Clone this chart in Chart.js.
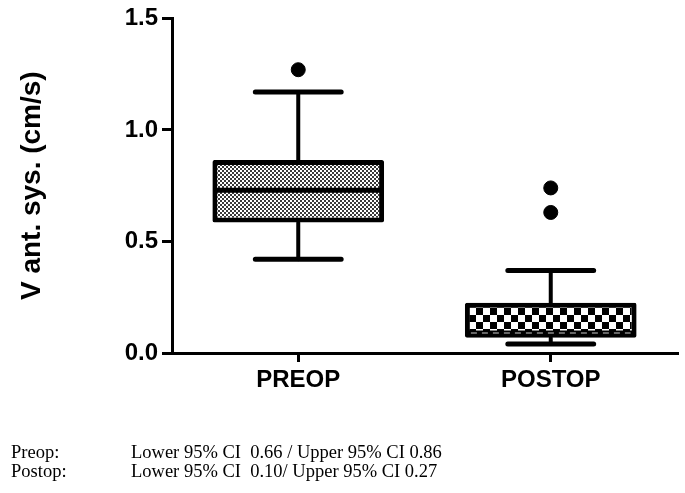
<!DOCTYPE html>
<html>
<head>
<meta charset="utf-8">
<script src="https://cdn.jsdelivr.net/npm/chart.js@4.4.1/dist/chart.umd.min.js"></script>
<style>
  html, body { margin: 0; padding: 0; background: #fff; }
  #wrap { position: relative; width: 685px; height: 493px; }
  #chart { position: absolute; left: 0; top: 0; }
  .note { position: absolute; font-family: "Liberation Serif", "Times New Roman", serif; font-size: 18.5px; line-height: 20px; color: #000; white-space: pre; }
</style>
</head>
<body>
<div id="wrap">
  <canvas id="chart" width="685" height="493"></canvas>
  <div class="note" style="left:11px; top:442px;">Preop:</div>
  <div class="note" style="left:131px; top:442px;">Lower 95% CI  0.66 / Upper 95% CI 0.86</div>
  <div class="note" style="left:11px; top:461px;">Postop:</div>
  <div class="note" style="left:131px; top:461px;">Lower 95% CI  0.10/ Upper 95% CI 0.27</div>
</div>
<script>
  // box plot values
  const groups = ["PREOP", "POSTOP"];
  const mins = [0.42, 0.04];
  const q1s = [0.585, 0.068];
  const medians = [0.73, 0.09];
  const q3s = [0.865, 0.225];
  const maxs = [1.17, 0.37];
  const outliers = [
    { x: "PREOP", y: 1.27 },
    { x: "POSTOP", y: 0.74 },
    { x: "POSTOP", y: 0.63 },
  ];
  const yTicks = [0, 0.5, 1.0, 1.5];

  function makePattern(cell, ink) {
    const c = document.createElement("canvas");
    c.width = cell * 2;
    c.height = cell * 2;
    const g = c.getContext("2d");
    g.fillStyle = "#fff";
    g.fillRect(0, 0, c.width, c.height);
    g.fillStyle = ink;
    g.fillRect(0, 0, cell, cell);
    g.fillRect(cell, cell, cell, cell);
    return g.createPattern(c, "repeat");
  }
  const ctx = document.getElementById("chart").getContext("2d");
  const fills = [makePattern(2, "#3a3a3a"), makePattern(7, "#000")];

  // whiskers, caps and median lines, placed with the chart's scales
  const boxExtras = {
    id: "boxExtras",
    afterDatasetsDraw(chart) {
      const x = chart.scales.x, y = chart.scales.y;
      const meta = chart.getDatasetMeta(0);
      const c = chart.ctx;
      c.save();
      c.strokeStyle = "#000";
      groups.forEach((g, i) => {
        const cx = x.getPixelForValue(i);
        const bw = meta.data[i].width;
        const capHalf = bw / 4;
        c.lineCap = "round";
        c.lineWidth = 4;
        c.beginPath();
        c.moveTo(cx, y.getPixelForValue(q3s[i]));
        c.lineTo(cx, y.getPixelForValue(maxs[i]));
        c.moveTo(cx, y.getPixelForValue(q1s[i]));
        c.lineTo(cx, y.getPixelForValue(mins[i]));
        c.stroke();
        c.lineWidth = 5;
        c.beginPath();
        c.moveTo(cx - capHalf, y.getPixelForValue(maxs[i]));
        c.lineTo(cx + capHalf, y.getPixelForValue(maxs[i]));
        c.moveTo(cx - capHalf, y.getPixelForValue(mins[i]));
        c.lineTo(cx + capHalf, y.getPixelForValue(mins[i]));
        c.stroke();
        // median
        const my = y.getPixelForValue(medians[i]);
        c.lineCap = "butt";
        c.lineWidth = 5;
        c.beginPath();
        c.moveTo(cx - bw / 2 + 2, my);
        c.lineTo(cx + bw / 2 - 2, my);
        c.stroke();
        if (i === 1) {
          c.strokeStyle = "#888";
          c.lineWidth = 1.5;
          c.setLineDash([6, 5]);
          c.beginPath();
          c.moveTo(cx - bw / 2 + 6, my);
          c.lineTo(cx + bw / 2 - 6, my);
          c.stroke();
          c.setLineDash([]);
          c.strokeStyle = "#000";
        }
      });
      c.restore();
    },
  };

  const tickFont = { family: "'Liberation Sans', Arial, sans-serif", size: 24, weight: "bold" };

  new Chart(ctx, {
    type: "bar",
    data: {
      labels: groups,
      datasets: [
        {
          label: "IQR",
          data: groups.map((g, i) => [q1s[i], q3s[i]]),
          backgroundColor: fills,
          borderColor: "#000",
          borderWidth: 5,
          borderSkipped: false,
          borderRadius: 2,
          barPercentage: 0.68,
          categoryPercentage: 1,
          order: 2,
        },
        {
          type: "line",
          label: "Outliers",
          data: outliers,
          showLine: false,
          pointRadius: 7,
          pointBackgroundColor: "#000",
          pointBorderColor: "#000",
          order: 1,
        },
      ],
    },
    options: {
      responsive: false,
      animation: false,
      layout: { padding: { left: 0, right: 8, top: 18, bottom: 0 } },
      plugins: { legend: { display: false }, tooltip: { enabled: false } },
      scales: {
        x: {
          offset: true,
          afterFit: (s) => { s.height = 140; },
          border: { display: true, color: "#000", width: 3 },
          grid: { display: true, offset: false, drawOnChartArea: false, drawTicks: true, tickLength: 9, color: "#000", lineWidth: 3 },
          ticks: { color: "#000", font: tickFont, padding: 4 },
        },
        y: {
          min: 0,
          max: 1.5,
          afterFit: (s) => { s.width = 172; },
          afterBuildTicks: (s) => { s.ticks = yTicks.map((v) => ({ value: v })); },
          border: { display: true, color: "#000", width: 3 },
          grid: { display: true, drawOnChartArea: false, drawTicks: true, tickLength: 10, color: "#000", lineWidth: 3 },
          ticks: { color: "#000", font: tickFont, padding: 4, callback: (v) => Number(v).toFixed(1) },
          title: {
            display: true,
            text: "V ant. sys. (cm/s)",
            color: "#000",
            font: { family: "'Liberation Sans', Arial, sans-serif", size: 28, weight: "bold" },
            padding: { top: 15, bottom: 0 },
          },
        },
      },
    },
    plugins: [boxExtras],
  });
</script>
</body>
</html>
